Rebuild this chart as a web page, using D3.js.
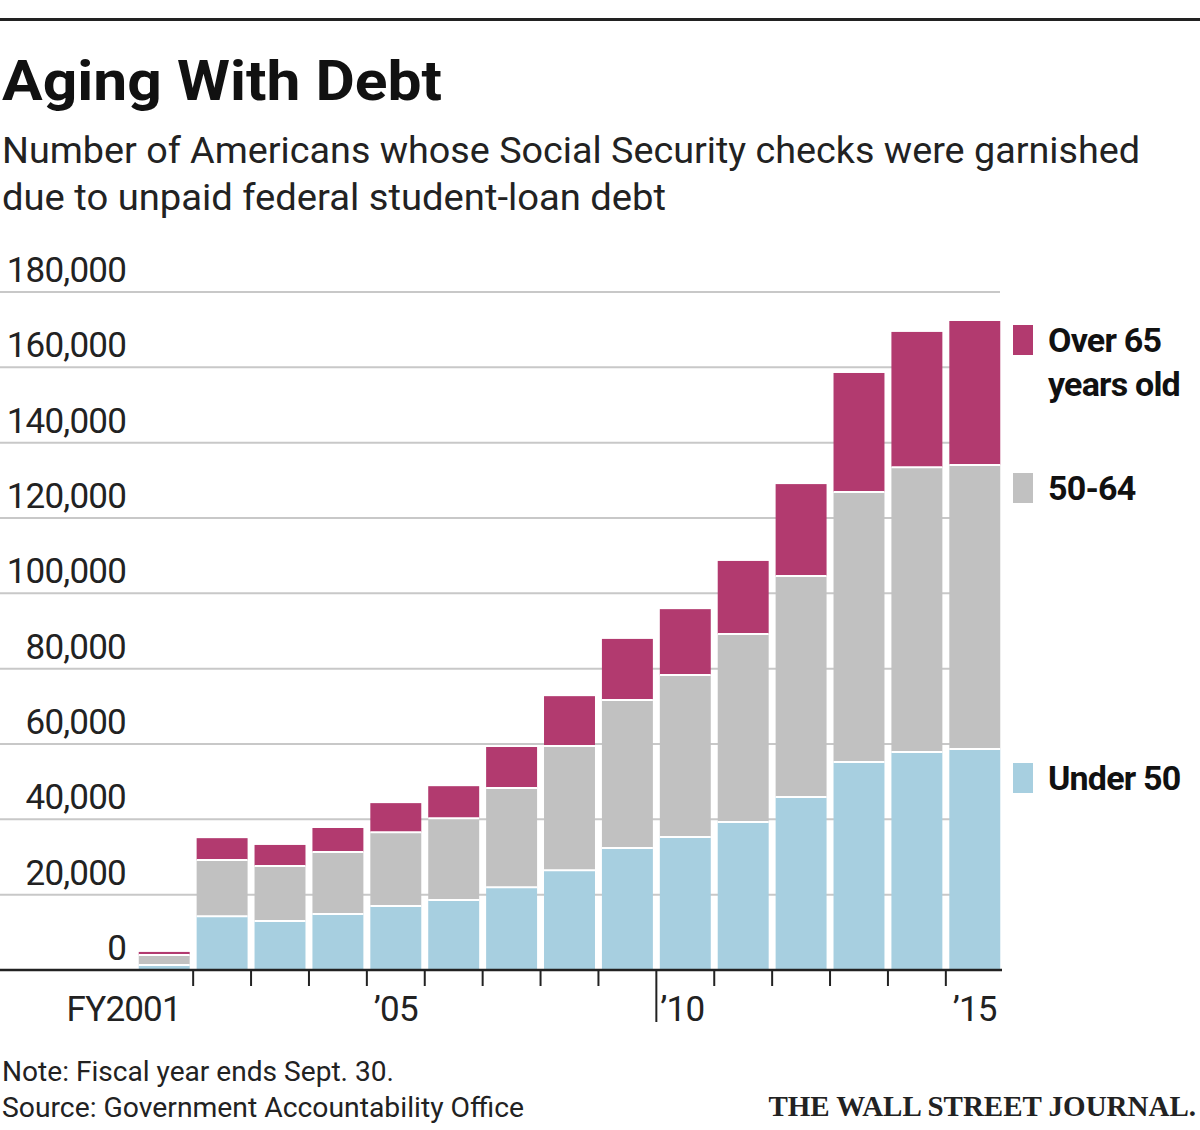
<!DOCTYPE html>
<html><head><meta charset="utf-8">
<script src="https://cdn.jsdelivr.net/npm/d3@7"></script>
<style>body{margin:0;background:#fff}svg{display:block}</style>
</head><body><svg id="c" width="1200" height="1130"></svg>
<script>
const years=[2001,2002,2003,2004,2005,2006,2007,2008,2009,2010,2011,2012,2013,2014,2015];
const under50=[1300,14300,13000,14900,17000,18600,22000,26500,32400,35300,39300,45900,55200,57900,58700];
const age50to64=[2700,14900,14600,16400,19600,21700,26300,33000,39300,43000,49900,58700,71700,75600,75400];
const over65=[800,5800,5600,6400,7700,8500,10900,13200,16200,17500,19400,24400,31600,35900,38200];
const seriesNames=["Under 50","50-64","Over 65"];
const yTicks=[0,20000,40000,60000,80000,100000,120000,140000,160000,180000];
const xLabels={2001:"FY2001",2005:"’05",2010:"’10",2015:"’15"};
const colors=["#a7cfe0","#c1c1c1","#b23a6f"];
const F="Roboto,'Liberation Sans',sans-serif";
const svg=d3.select("#c");
function fit(t,w){t.attr("textLength",w).attr("lengthAdjust","spacingAndGlyphs");return t;}
svg.append("rect").attr("x",0).attr("y",18).attr("width",1200).attr("height",3).attr("fill","#222");
fit(svg.append("text").attr("x",2).attr("y",100).text("Aging With Debt").attr("font-family",F).attr("font-weight",700).attr("font-size",56).attr("fill","#111"),440);
[["Number of Americans whose Social Security checks were garnished",1138],["due to unpaid federal student-loan debt",664]].forEach(([t,w],i)=>
 fit(svg.append("text").attr("x",2).attr("y",163+i*47).text(t).attr("font-family",F).attr("font-size",37).attr("fill","#222"),w));
const y=d3.scaleLinear().domain([0,180000]).range([970,292]);
const x=d3.scaleBand().domain(years).range([137,1002]).paddingInner(0.12).paddingOuter(0.03);
yTicks.forEach(v=>{
 if(v>0) svg.append("line").attr("x1",0).attr("x2",1000).attr("y1",y(v)).attr("y2",y(v)).attr("stroke","#c8c8c8").attr("stroke-width",2);
 svg.append("text").attr("x",126).attr("y",y(v)-10).attr("text-anchor","end").text(d3.format(",")(v)).attr("font-family",F).attr("font-size",35).attr("letter-spacing",-0.8).attr("fill","#222");
});
const data=years.map((yr,i)=>({yr,"Under 50":under50[i],"50-64":age50to64[i],"Over 65":over65[i]}));
const st=d3.stack().keys(seriesNames)(data);
svg.selectAll("g.s").data(st).join("g").attr("fill",(d,i)=>colors[i]).selectAll("rect").data(d=>d).join("rect")
 .attr("x",d=>x(d.data.yr)).attr("width",x.bandwidth()).attr("y",d=>y(d[1])).attr("height",d=>y(d[0])-y(d[1]));
st.slice(1).forEach(s=>s.forEach(d=>svg.append("line").attr("x1",x(d.data.yr)).attr("x2",x(d.data.yr)+x.bandwidth()).attr("y1",y(d[0])).attr("y2",y(d[0])).attr("stroke","#fff").attr("stroke-width",2)));
svg.append("line").attr("x1",0).attr("x2",1002).attr("y1",970).attr("y2",970).attr("stroke","#222").attr("stroke-width",2.5);
const step=x.step();
years.slice(1).forEach(yr=>{
 const tx=x(yr)-step*x.paddingInner()/2;
 svg.append("line").attr("x1",tx).attr("x2",tx).attr("y1",970).attr("y2",yr===2010?1022:986).attr("stroke","#222").attr("stroke-width",2);
});
Object.entries(xLabels).forEach(([yr,l])=>{
 yr=+yr;let cx=x(yr)+x.bandwidth()/2, anchor="middle";
 if(yr===2001){cx=x(yr)-15;}
 if(yr===2010){cx=x(yr)-step*x.paddingInner()/2+4;anchor="start";}
 svg.append("text").attr("x",cx).attr("y",1021).attr("text-anchor",anchor).text(l).attr("font-family",F).attr("font-size",35).attr("letter-spacing",-0.8).attr("fill","#222");
});
const leg=[{c:colors[2],y:325,t:["Over 65","years old"]},{c:colors[1],y:473,t:["50-64"]},{c:colors[0],y:763,t:["Under 50"]}];
leg.forEach(d=>{
 svg.append("rect").attr("x",1013).attr("y",d.y).attr("width",20).attr("height",30).attr("fill",d.c);
 d.t.forEach((t,i)=>svg.append("text").attr("x",1048).attr("y",d.y+27+i*44).text(t).attr("font-family",F).attr("font-weight",700).attr("font-size",34).attr("letter-spacing",-0.8).attr("fill","#111"));
});
fit(svg.append("text").attr("x",2).attr("y",1081).text("Note: Fiscal year ends Sept. 30.").attr("font-family",F).attr("font-size",28).attr("fill","#222"),392);
fit(svg.append("text").attr("x",2).attr("y",1117).text("Source: Government Accountability Office").attr("font-family",F).attr("font-size",28).attr("fill","#222"),522);
svg.append("text").attr("x",1196).attr("y",1116).attr("text-anchor","end").text("THE WALL STREET JOURNAL.").attr("font-family","'Liberation Serif','DejaVu Serif',serif").attr("font-weight",700).attr("font-size",29).attr("fill","#222");
</script></body></html>
